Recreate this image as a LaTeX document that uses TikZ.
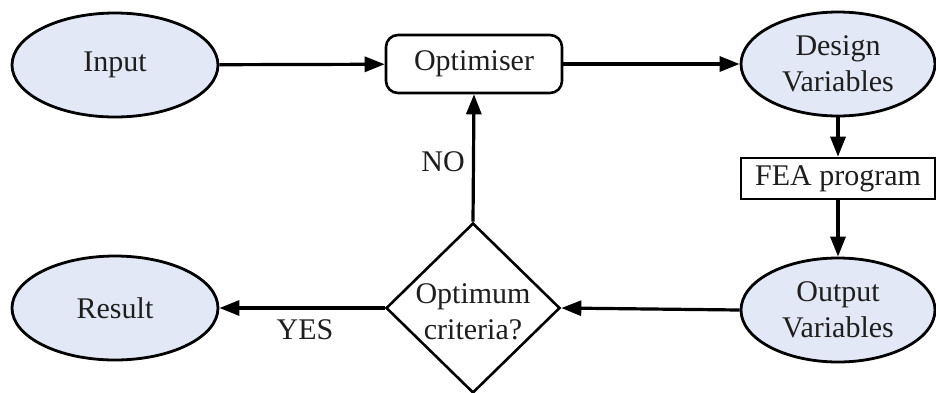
\documentclass[tikz,border=0pt]{standalone}
\usepackage{fontspec}
\setmainfont{Liberation Serif}
\newfontfamily\figfont{Liberation Serif}
\usetikzlibrary{shapes.geometric,arrows.meta}
\definecolor{ellfill}{RGB}{226,232,245}
\definecolor{txt}{RGB}{30,30,30}
\tikzset{
  every node/.style={font=\figfont\fontsize{30pt}{36pt}\selectfont, text=txt},
  ell/.style={ellipse, draw, line width=2.8pt, fill=ellfill, inner sep=0pt, align=center},
  box/.style={rectangle, draw, line width=2.6pt, inner sep=0pt, fill=white},
  dia/.style={diamond, draw, line width=2.6pt, inner sep=0pt, fill=white},
  conn/.style={line width=3.2pt, -{Triangle[length=20pt,width=15pt]}},
  lbl/.style={inner sep=0pt}
}
\begin{document}
\begin{tikzpicture}[x=1pt,y=-1pt]
\useasboundingbox (0,0) rectangle (936,392);
\node[ell, minimum width=206pt, minimum height=104pt] (input) at (115,65) {Input};
\node[box, rounded corners=12pt, minimum width=176pt, minimum height=58pt] (opt) at (474,64) {Optimiser};
\node[ell, minimum width=194pt, minimum height=104pt] (design) at (838,64) {Design\\Variables};
\node[box, minimum width=194pt, minimum height=41pt] (fea) at (838,178.5) {FEA program};
\node[ell, minimum width=194pt, minimum height=104pt] (output) at (838,310) {Output\\Variables};
\node[dia, minimum width=174pt, minimum height=170pt,
      label={[align=center, inner sep=0pt, yshift=-4pt]center:Optimum\\criteria?}] (crit) at (473,308) {};
\node[ell, minimum width=206pt, minimum height=104pt] (result) at (115,308) {Result};

\draw[conn] (input) -- (opt);
\draw[conn] (opt) -- (design);
\draw[conn] (design.south) -- (fea.north);
\draw[conn] (fea.south) -- (output.north);
\draw[conn] (output.west) -- (crit.east);
\draw[conn] (crit.west) -- (result.east);
\draw[conn] (crit.north) -- (opt.south);

\node[lbl] (no) at (443,162) {NO};
\node[lbl] (yes) at (305,330) {YES};
\end{tikzpicture}
\end{document}
